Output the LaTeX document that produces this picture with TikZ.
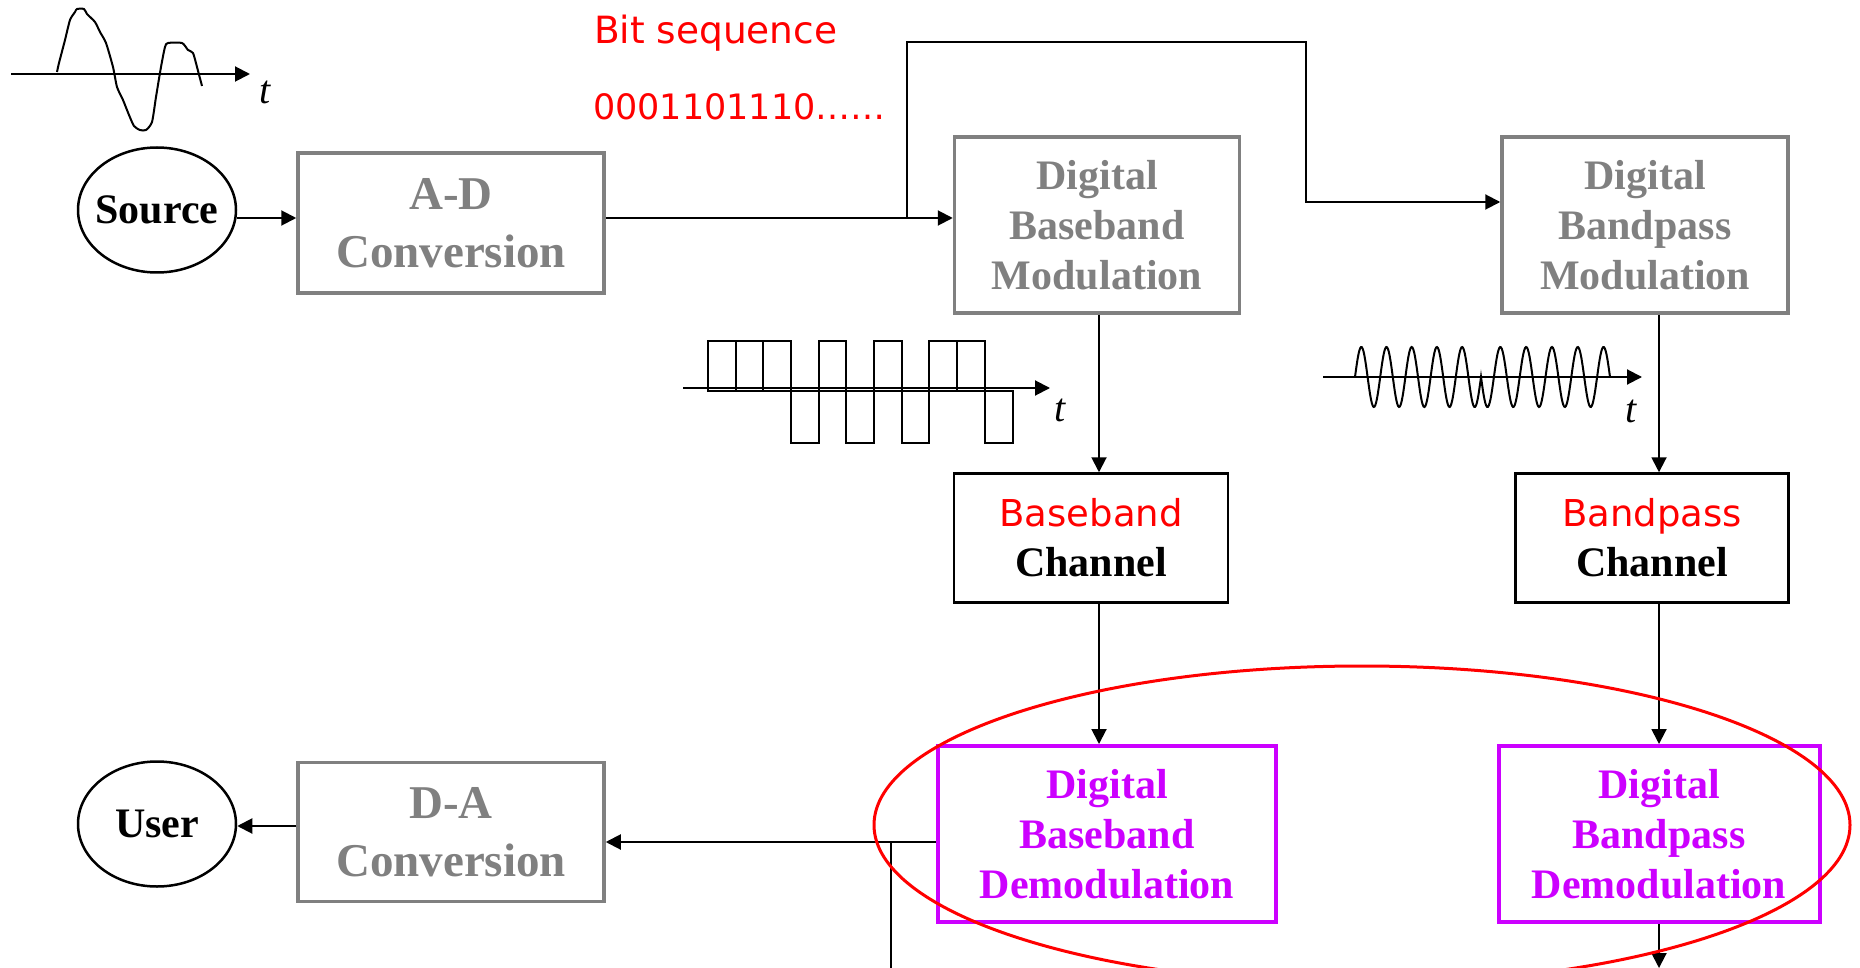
\documentclass[tikz,border=0pt]{standalone}
\usepackage{fontspec}
\setmainfont{Liberation Serif}
\newfontfamily\comicfont{DejaVu Sans}
\usetikzlibrary{shapes}
\usetikzlibrary{arrows.meta}
\definecolor{boxgray}{HTML}{808080}
\definecolor{demodpink}{HTML}{CC00FF}
\newcommand{\bigbold}{\fontsize{47}{58}\selectfont\bfseries}
\newcommand{\midbold}{\fontsize{42}{50}\selectfont\bfseries}
\newcommand{\redword}[1]{{\comicfont\mdseries\fontsize{37}{48}\selectfont\color{red}#1}}

\begin{document}
\begin{tikzpicture}[x=1pt,y=-1pt,line width=2pt,
  arrow/.style={-{Triangle[length=15pt,width=15pt]}},
  block/.style={draw,rectangle,align=center,inner sep=0pt},
  graybox/.style={block,draw=boxgray,text=boxgray,line width=3.5pt},
  chanbox/.style={block,line width=2.5pt,font=\midbold,minimum height=129pt},
  demodbox/.style={block,draw=demodpink,text=demodpink,line width=4pt,font=\midbold,minimum height=176pt},
  endpoint/.style={draw,ellipse,line width=2.5pt,inner xsep=-8pt,inner ysep=0pt,minimum width=158pt,minimum height=125pt,font=\midbold},
  tlabel/.style={font=\fontsize{40}{40}\selectfont\itshape,inner sep=0pt},
  redtext/.style={anchor=base west,inner sep=0pt,text=red}]
  \clip (0,0) rectangle (1860,968);

  % transmitter chain
  \node[endpoint] (src) at (157,210) {Source};
  \node[graybox,font=\bigbold,minimum width=306pt,minimum height=140pt] (adc) at (451,223) {A-D\\Conversion};
  \node[graybox,font=\midbold,minimum width=285pt,minimum height=176pt] (bbmod) at (1097,225) {Digital\\Baseband\\Modulation};
  \node[graybox,font=\midbold,minimum width=286pt,minimum height=176pt] (bpmod) at (1645,225) {Digital\\Bandpass\\Modulation};

  % channels
  \node[chanbox,minimum width=274pt] (bbchan) at (1091,538) {\redword{Baseband}\\Channel};
  \node[chanbox,minimum width=273pt] (bpchan) at (1652,538) {\redword{Bandpass}\\Channel};

  % receiver chain
  \node[demodbox,minimum width=338pt] (bbdemod) at (1107,834) {Digital\\Baseband\\Demodulation};
  \node[demodbox,minimum width=321pt] (bpdemod) at (1659,834) {Digital\\Bandpass\\Demodulation};
  \node[graybox,font=\bigbold,minimum width=306pt,minimum height=139pt] (dac) at (451,832) {D-A\\Conversion};
  \node[endpoint] (usr) at (157,824) {User};

  \node[redtext,font=\comicfont\fontsize{37.5}{40}\selectfont] (bitlabel) at (593,44) {Bit sequence};
  \node[redtext,font=\comicfont\fontsize{35}{40}\selectfont] (bitstream) at (592,120) {0001101110……};

  % connectors
  \coordinate (split) at (907,218);
  \coordinate (detour) at (1306,42);
  \coordinate (bpin) at (1306,202);
  \coordinate (bbx) at (1099,0);
  \coordinate (bpx) at (1659,0);
  \coordinate (ret) at (891,842);
  \coordinate (bbout) at (891,968);
  \coordinate (bpout) at (1659,968);
  \draw[arrow] (src.east |- split) -- (adc.west |- split);
  \draw[arrow] (adc.east |- split) -- (bbmod.west |- split);
  \draw[arrow] (split) |- (detour) |- (bpmod.west |- bpin);
  \draw[arrow] (bbmod.south -| bbx) -- (bbchan.north -| bbx);
  \draw[arrow] (bbchan.south -| bbx) -- (bbdemod.north -| bbx);
  \draw[arrow] (bpmod.south -| bpx) -- (bpchan.north -| bpx);
  \draw[arrow] (bpchan.south -| bpx) -- (bpdemod.north -| bpx);
  \draw[arrow] (bpdemod.south -| bpx) -- (bpout);
  \draw[arrow] (bbdemod.west |- ret) -- (dac.east |- ret);
  \draw (ret) -- (bbout);
  \draw[arrow] (dac.west |- 0,826) -- (usr.east |- 0,826);

  % analog message
  \draw[arrow] (11,74) -- (250,74);
  \draw plot[smooth,tension=0.4] coordinates {(57,72) (59,63) (65,40) (70,20) (75,12) (77,9) (84,9)
    (87,14) (95,22) (100,32) (106,43) (113,67) (117,87) (123,100) (129,115) (134,126) (140,130)
    (146,130) (152,122) (156,97) (161,67) (165,47) (168,43) (182,43) (188,50) (193,53) (197,67) (202,86)};
  \node[tlabel] (tsrc) at (265,92) {t};

  % baseband pulses
  \draw[arrow] (683,388) -- (1050,388);
  \foreach \b [count=\i from 0] in {1,1,1,0,1,0,1,0,1,1,0}
    \draw ({707.8+27.7*\i},391) rectangle ({707.8+27.7*(\i+1)},{443-102*\b});
  \node[tlabel] (tbb) at (1060,410) {t};

  % bandpass carrier
  \draw[arrow] (1323,377) -- (1642,377);
  \draw plot[domain=1355:1481,samples=150] (\x,{377-30*sin(14.2857*(\x-1355))})
    -- plot[domain=1481:1610,samples=150] (\x,{377+30*sin(13.9535*(\x-1481))});
  \node[tlabel] (tbp) at (1631,411) {t};

  % receiver highlight
  \draw[red,line width=3pt] (1362,825) ellipse [x radius=488,y radius=159];
\end{tikzpicture}
\end{document}
